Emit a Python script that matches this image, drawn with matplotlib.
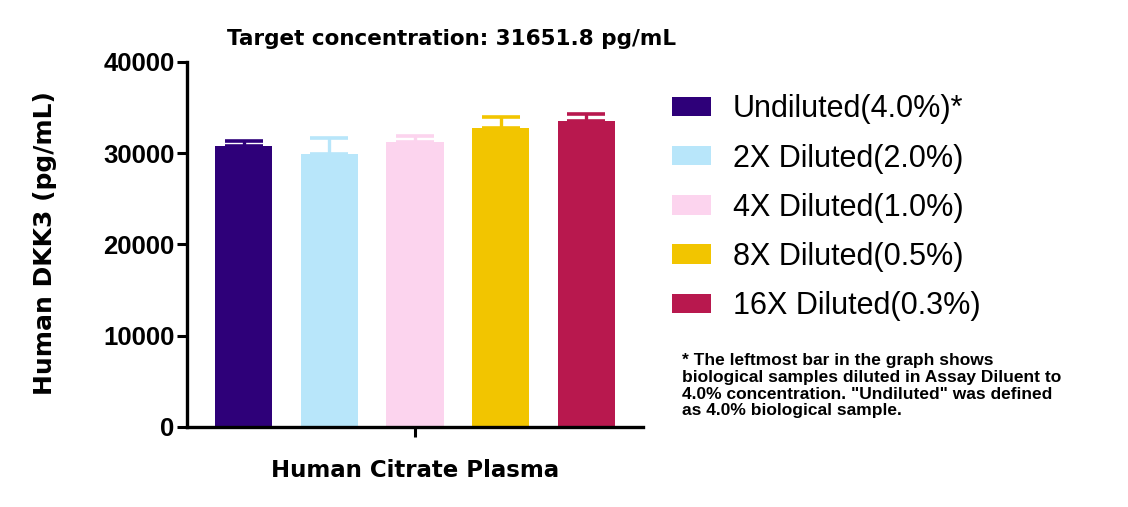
import matplotlib
matplotlib.use("Agg")
import matplotlib.pyplot as plt
import numpy as np

plt.rcParams['font.family'] = ['Liberation Sans', 'DejaVu Sans']

categories = ["Undiluted(4.0%)*", "2X Diluted(2.0%)", "4X Diluted(1.0%)",
              "8X Diluted(0.5%)", "16X Diluted(0.3%)"]
values = [30795, 29918, 31233, 32767, 33534]
errors = [470, 1680, 590, 1130, 700]
colors = ["#2E0079", "#B8E6FA", "#FCD4EE", "#F2C500", "#B8184E"]
yticks = [0, 10000, 20000, 30000, 40000]
title = "Target concentration: 31651.8 pg/mL"
xlabel = "Human Citrate Plasma"
ylabel = "Human DKK3 (pg/mL)"
footnote = ('* The leftmost bar in the graph shows\n'
            'biological samples diluted in Assay Diluent to\n'
            '4.0% concentration. "Undiluted" was defined\n'
            'as 4.0% biological sample.')

W, H = 1128, 507
fig = plt.figure(figsize=(W / 100, H / 100), dpi=100)
ax = fig.add_axes([187 / W, 1 - 427 / H, (643 - 187) / W, (427 - 61.7) / H])

x = np.arange(len(values))
for i in range(len(values)):
    ax.bar(x[i], values[i], width=0.67, color=colors[i], label=categories[i], zorder=2)
    ax.errorbar(x[i], values[i], yerr=[[0], [errors[i]]], fmt='none',
                ecolor=colors[i], elinewidth=2.4, capsize=14, capthick=2.6, zorder=1)

ax.set_xlim(-0.66, 4.66)
ax.set_ylim(0, 40000)
ax.set_yticks(yticks)
ax.set_yticklabels([str(t) for t in yticks], fontsize=18.5, fontweight='bold')
ax.set_xticks([2])
ax.set_xticklabels([""])
ax.tick_params(axis='both', width=2.2, length=7, direction='out')
ax.tick_params(axis='y', pad=2)
for s in ['top', 'right']:
    ax.spines[s].set_visible(False)
for s in ['left', 'bottom']:
    ax.spines[s].set_linewidth(2.4)

ax.set_xlabel(xlabel, fontsize=16.5, fontweight='bold', family='DejaVu Sans')
ax.xaxis.label.set_va('baseline')
ax.xaxis.set_label_coords(0.5, -(477.3 - 427) / (427 - 61.7))

fig.text(45 / W, 1 - 243 / H, ylabel, rotation=90, ha='center', va='center',
         fontsize=18, fontweight='bold', family='DejaVu Sans')
fig.text(227 / W, 1 - 45 / H, title, ha='left', va='baseline',
         fontsize=15.5, fontweight='bold', family='DejaVu Sans')

leg = ax.legend(loc='upper left', bbox_to_anchor=(672 / W, 1 - 94.5 / H),
                bbox_transform=fig.transFigure, frameon=False, fontsize=22,
                handlelength=1.27, handleheight=0.59, handletextpad=0.72,
                labelspacing=0.625, borderpad=0, borderaxespad=0)

fig.text(682 / W, 1 - 353 / H, footnote, ha='left', va='top',
         fontsize=12.5, fontweight='bold', linespacing=1.15)

fig.savefig("out.png", dpi=100)
